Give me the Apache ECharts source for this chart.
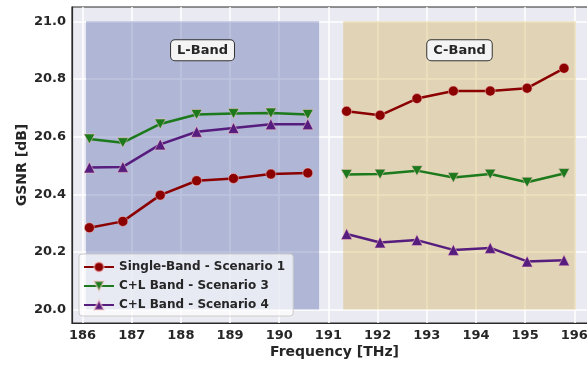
<!DOCTYPE html>
<html>
<head>
<meta charset="utf-8">
<script src="https://cdn.jsdelivr.net/npm/echarts@6/dist/echarts.min.js"></script>
<style>html,body{margin:0;padding:0;background:#fff;overflow:hidden}#c{width:587px;height:365px}</style>
</head>
<body>
<div id="c"></div>
<script>
// ---- data ----
const lFreq = [186.14, 186.82, 187.58, 188.32, 189.07, 189.83, 190.58];
const cFreq = [191.37, 192.05, 192.80, 193.54, 194.29, 195.04, 195.79];
const s1L = [20.284, 20.306, 20.397, 20.447, 20.455, 20.470, 20.474];
const s1C = [20.688, 20.674, 20.732, 20.758, 20.758, 20.768, 20.837];
const s3L = [20.592, 20.579, 20.644, 20.677, 20.680, 20.682, 20.677];
const s3C = [20.469, 20.470, 20.482, 20.458, 20.470, 20.442, 20.472];
const s4L = [20.493, 20.495, 20.573, 20.617, 20.630, 20.643, 20.643];
const s4C = [20.262, 20.233, 20.241, 20.207, 20.214, 20.167, 20.171];
const seriesNames = ['Single-Band - Scenario 1', 'C+L Band - Scenario 3', 'C+L Band - Scenario 4'];
const bandNames = ['L-Band', 'C-Band'];
const bandFrom = [186.07, 191.30];
const bandTo = [190.81, 196.03];
const bandLow = 20.0, bandHigh = 21.0;
const xTicks = [186, 187, 188, 189, 190, 191, 192, 193, 194, 195, 196];
const yTicks = [20.0, 20.2, 20.4, 20.6, 20.8, 21.0];

const FONT = 'DejaVu Sans';
const TXT = '#262626';
const colors = ['#8B0000', '#1C7A1C', '#561C7E'];
const symbols = ['circle', 'path://M0,0 L10,0 L5,9 Z', 'triangle'];
const sizes = [10, 11, 11];

function pts(fr, v) { return fr.map((f, i) => [f, v[i]]); }

const bandFill = ['rgba(70,85,160,0.35)', 'rgba(205,169,73,0.35)'];
const markAreas = bandNames.map((n, i) => ([
  { name: n, xAxis: bandFrom[i], yAxis: bandLow, itemStyle: { color: bandFill[i] } },
  { xAxis: bandTo[i], yAxis: bandHigh }
]));

const data = [[s1L, s1C], [s3L, s3C], [s4L, s4C]];
const series = [];
data.forEach((pair, k) => {
  [lFreq, cFreq].forEach((fr, b) => {
    series.push({
      type: 'line',
      name: seriesNames[k],
      data: pts(fr, pair[b]),
      symbol: symbols[k],
      symbolSize: sizes[k],
      symbolKeepAspect: true,
      showAllSymbol: true,
      z: 5,
      lineStyle: { color: colors[k], width: 2.5 },
      itemStyle: { color: colors[k], borderColor: 'rgba(255,200,200,0.5)', borderWidth: 1 },
      emphasis: { disabled: true }
    });
  });
});
series.push({
  type: 'line', data: [], z: 1, silent: true,
  markArea: {
    silent: true,
    label: {
      show: true, position: 'insideTop', distance: 19,
      fontFamily: FONT, fontWeight: 'bold', fontSize: 13, color: TXT,
      backgroundColor: '#F4F4F4', borderColor: '#333', borderWidth: 1,
      borderRadius: 4, padding: [4, 6, 3, 6]
    },
    data: markAreas
  }
});

const chart = echarts.init(document.getElementById('c'), null, { renderer: 'canvas', width: 587, height: 365 });
chart.setOption({
  animation: false,
  grid: {
    left: 72, top: 7, right: -10, bottom: 42,
    outerBoundsMode: 'none', containLabel: false,
    show: true, backgroundColor: '#EAEAF2', borderColor: '#2a2a2a', borderWidth: 1.2
  },
  legend: {
    data: seriesNames,
    left: 79, top: 254, orient: 'vertical',
    itemWidth: 30, itemHeight: 12, itemGap: 7,
    padding: [7, 8, 5, 4],
    backgroundColor: 'rgba(255,255,255,0.7)', borderColor: '#cccccc', borderWidth: 1, borderRadius: 3,
    textStyle: { fontFamily: FONT, fontWeight: 'bold', fontSize: 12, color: TXT }
  },
  xAxis: {
    type: 'value', min: 185.786, max: 196.461,
    name: 'Frequency [THz]', nameLocation: 'middle', nameGap: 22, nameMoveOverlap: false,
    nameTextStyle: { fontFamily: FONT, fontWeight: 'bold', fontSize: 14, color: TXT },
    axisLine: { show: true, lineStyle: { color: '#2a2a2a', width: 1.2 } },
    axisTick: { show: false, customValues: xTicks },
    axisLabel: { customValues: xTicks, margin: 6, hideOverlap: false, fontFamily: FONT, fontWeight: 'bold', fontSize: 13, color: TXT },
    splitLine: { show: true, lineStyle: { color: '#ffffff', width: 1.5 } }
  },
  yAxis: {
    type: 'value', min: 19.9535, max: 21.0496,
    name: 'GSNR [dB]', nameLocation: 'middle', nameGap: 43, nameMoveOverlap: false,
    nameTextStyle: { fontFamily: FONT, fontWeight: 'bold', fontSize: 14, color: TXT },
    axisLine: { show: true, lineStyle: { color: '#2a2a2a', width: 1.2 } },
    axisTick: { show: false, customValues: yTicks },
    axisLabel: { customValues: yTicks, margin: 6, formatter: v => v.toFixed(1), fontFamily: FONT, fontWeight: 'bold', fontSize: 13, color: TXT },
    splitLine: { show: true, lineStyle: { color: '#ffffff', width: 1.5 } }
  },
  series: series
});
</script>
</body>
</html>
